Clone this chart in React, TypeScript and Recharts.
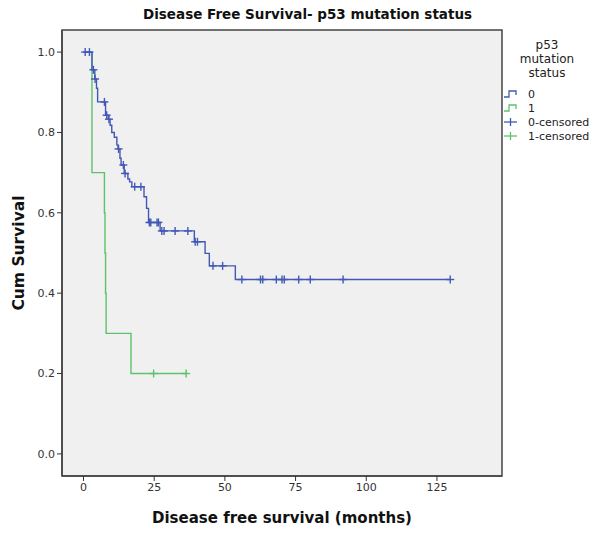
import {
  ComposedChart,
  Line,
  Scatter,
  XAxis,
  YAxis,
  CartesianGrid,
  ReferenceArea,
  Legend,
} from 'recharts';

// Kaplan-Meier steps (months, cum survival)
const blueStepTimes = [0, 3.0, 4.0, 4.6, 5.0, 7.8, 8.8, 9.4, 10.0, 10.9, 11.8, 12.2, 12.9, 13.3, 14.4, 15.7, 16.3, 17.1, 21.4, 22.3, 23.0, 27.1, 39.2, 43.0, 44.5, 53.7];
const blueStepSurv = [1.0, 0.956, 0.933, 0.91, 0.876, 0.843, 0.833, 0.818, 0.8, 0.788, 0.769, 0.759, 0.736, 0.719, 0.698, 0.684, 0.677, 0.665, 0.64, 0.611, 0.576, 0.555, 0.528, 0.499, 0.468, 0.434];
const blueCensorTimes = [0.6, 2.1, 3.5, 4.1, 7.4, 8.2, 9.0, 12.4, 14.1, 14.7, 18.1, 20.3, 23.3, 23.8, 26.0, 26.5, 27.7, 28.5, 32.4, 36.9, 39.5, 40.3, 45.8, 49.2, 56.0, 62.6, 63.4, 68.2, 70.2, 71.0, 76.1, 80.2, 91.8, 129.7];

const greenStepTimes = [0, 3.0, 7.4, 7.6, 7.8, 8.0, 16.8];
const greenStepSurv = [1.0, 0.7, 0.6, 0.5, 0.4, 0.3, 0.2];
const greenCensorTimes = [24.8, 36.3];

const xTicks = [0, 25, 50, 75, 100, 125];
const yTicks = [0, 0.2, 0.4, 0.6, 0.8, 1.0];

const legendTitle = ['p53', 'mutation', 'status'];
const legendLabels = ['0', '1', '0-censored', '1-censored'];

const BLUE = '#4258b6';
const GREEN = '#5cc26b';
const FONT = '"DejaVu Sans", sans-serif';

function survAt(times: number[], surv: number[], t: number) {
  let s = surv[0];
  for (let i = 0; i < times.length; i++) {
    if (times[i] <= t) s = surv[i];
  }
  return s;
}

function stepData(times: number[], surv: number[], censors: number[]) {
  const rows = times.map((t, i) => ({ t, s: surv[i] }));
  const last = censors[censors.length - 1];
  rows.push({ t: last, s: survAt(times, surv, last) });
  return rows;
}

function censorData(times: number[], surv: number[], censors: number[]) {
  return censors.map((t) => ({ t, s: survAt(times, surv, t) }));
}

const blueLine = stepData(blueStepTimes, blueStepSurv, blueCensorTimes);
const greenLine = stepData(greenStepTimes, greenStepSurv, greenCensorTimes);
const blueCensored = censorData(blueStepTimes, blueStepSurv, blueCensorTimes);
const greenCensored = censorData(greenStepTimes, greenStepSurv, greenCensorTimes);

const makeCross = (color: string) => (props: any) => {
  const { cx, cy } = props;
  return (
    <g stroke={color} strokeWidth={1.4}>
      <line x1={cx - 4} x2={cx + 4} y1={cy} y2={cy} />
      <line x1={cx} x2={cx} y1={cy - 4} y2={cy + 4} />
    </g>
  );
};

function LegendBox() {
  const colors = [BLUE, GREEN, BLUE, GREEN];
  return (
    <div style={{ fontFamily: FONT, color: '#222', width: 100 }}>
      <div style={{ textAlign: 'center', paddingRight: 6, fontSize: 12, lineHeight: '14px', marginBottom: 7 }}>
        {legendTitle.map((l) => (
          <div key={l}>{l}</div>
        ))}
      </div>
      {legendLabels.map((label, i) => (
        <div key={label} style={{ display: 'flex', alignItems: 'center', height: 14, fontSize: 11 }}>
          <svg width={16} height={10} style={{ marginLeft: 3, marginRight: 9 }}>
            {i < 2 ? (
              <path d="M1,8 H6 V2 H13 V6" fill="none" stroke={colors[i]} strokeWidth={1.3} />
            ) : (
              <g stroke={colors[i]} strokeWidth={1.3}>
                <line x1={1} x2={14} y1={5} y2={5} />
                <line x1={7.5} x2={7.5} y1={1} y2={9} />
              </g>
            )}
          </svg>
          <span>{label}</span>
        </div>
      ))}
    </div>
  );
}

export default function App() {
  return (
    <div style={{ position: 'absolute', left: 0, top: 0, width: 602, height: 534, background: '#fff' }}>
      <div
        style={{
          position: 'absolute',
          top: 6,
          left: 143,
          whiteSpace: 'nowrap',
          fontFamily: FONT,
          fontWeight: 'bold',
          fontSize: 13.5,
          color: '#111',
        }}
      >
        Disease Free Survival- p53 mutation status
      </div>
      <ComposedChart width={602} height={534} margin={{ top: 30, right: 100, bottom: 0, left: 0 }}>
        <CartesianGrid fill="#f0f0f0" horizontal={false} vertical={false} />
        <XAxis
          dataKey="t"
          type="number"
          domain={[-7.6, 148]}
          ticks={xTicks}
          allowDataOverflow
          height={58}
          tickSize={5}
          tick={{ fill: '#333', fontSize: 11, fontFamily: FONT }}
          tickLine={{ stroke: '#333' }}
          axisLine={{ stroke: '#444', strokeWidth: 1.5 }}
          label={{
            value: 'Disease free survival (months)',
            position: 'center',
            dy: 13,
            style: { fontFamily: FONT, fontWeight: 'bold', fontSize: 15, fill: '#111' },
          }}
        />
        <YAxis
          dataKey="s"
          type="number"
          domain={[-0.055, 1.055]}
          ticks={yTicks}
          allowDataOverflow
          width={62}
          tickSize={5}
          tickFormatter={(v: number) => v.toFixed(1)}
          tick={{ fill: '#333', fontSize: 11, fontFamily: FONT }}
          tickLine={{ stroke: '#333' }}
          axisLine={{ stroke: '#444', strokeWidth: 1.5 }}
          label={{
            value: 'Cum Survival',
            angle: -90,
            position: 'center',
            dx: -13,
            style: { fontFamily: FONT, fontWeight: 'bold', fontSize: 15.5, fill: '#111' },
          }}
        />
        <ReferenceArea
          x1={-7.6}
          x2={148}
          y1={-0.055}
          y2={1.055}
          fill="none"
          stroke="#444"
          strokeWidth={1.5}
          ifOverflow="visible"
        />
        <Line
          data={greenLine}
          dataKey="s"
          type="stepAfter"
          stroke={GREEN}
          strokeWidth={1.4}
          dot={false}
          isAnimationActive={false}
        />
        <Line
          data={blueLine}
          dataKey="s"
          type="stepAfter"
          stroke={BLUE}
          strokeWidth={1.4}
          dot={false}
          isAnimationActive={false}
        />
        <Scatter data={greenCensored} dataKey="s" shape={makeCross(GREEN)} isAnimationActive={false} />
        <Scatter data={blueCensored} dataKey="s" shape={makeCross(BLUE)} isAnimationActive={false} />
        <Legend
          layout="vertical"
          align="center"
          verticalAlign="middle"
          content={() => <LegendBox />}
          wrapperStyle={{ left: 500, top: 38, width: 100 }}
        />
      </ComposedChart>
    </div>
  );
}
